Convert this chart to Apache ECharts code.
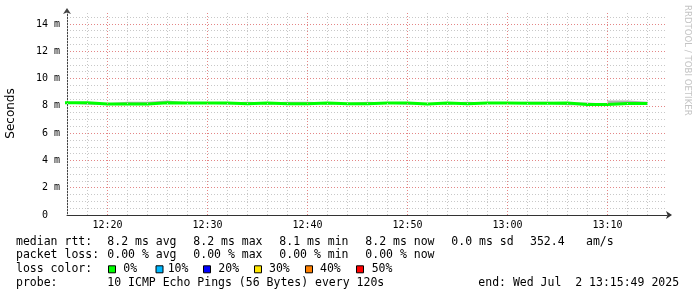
<!DOCTYPE html>
<html><head><meta charset="utf-8">
<script src="https://cdn.jsdelivr.net/npm/echarts@6/dist/echarts.min.js"></script>
<style>html,body{margin:0;padding:0;background:#fff}#c{width:697px;height:297px}</style>
</head><body><div id="c"></div>
<script>
// ---- data ----
const firstBucketStart = [2025, 6, 2, 12, 14, 0];   // local time of first 120 s bucket
const bucketSeconds = 120;
const medianMs = [8.22, 8.22, 8.13, 8.13, 8.13, 8.22, 8.20, 8.20, 8.20, 8.15,
                  8.20, 8.15, 8.15, 8.20, 8.15, 8.15, 8.20, 8.20, 8.13, 8.20,
                  8.15, 8.20, 8.20, 8.18, 8.18, 8.20, 8.10, 8.10, 8.17, 8.17];
const smokeHighMs = [8.27, 8.27, 8.18, 8.30, 8.30, 8.38, 8.25, 8.25, 8.25, 8.30,
                     8.25, 8.30, 8.30, 8.25, 8.20, 8.30, 8.25, 8.25, 8.18, 8.25,
                     8.30, 8.25, 8.25, 8.30, 8.30, 8.25, 8.25, 8.15, 8.38, 8.30];
const smokeLowMs = [8.17, 8.17, 8.08, 8.08, 8.08, 8.17, 8.15, 8.15, 8.15, 8.10,
                    8.15, 8.10, 8.10, 8.15, 8.10, 8.10, 8.15, 8.15, 8.08, 8.15,
                    8.10, 8.15, 8.15, 8.13, 8.13, 8.15, 8.05, 8.05, 8.12, 8.12];
const viewStart = [2025, 6, 2, 12, 15, 57];
const viewEnd = [2025, 6, 2, 13, 15, 57];
const minorGridMinutes = 2;     // vertical minor grid every 2 min
const majorGridMinutes = 10;    // labelled grid every 10 min
const yTickLabels = ['0  ', '2 m', '4 m', '6 m', '8 m', '10 m', '12 m', '14 m'];
const yMax = 14.8;
const statRtt = ['median rtt:', '8.2 ms avg', '8.2 ms max', '8.1 ms min', '8.2 ms now', '0.0 ms sd', '352.4', 'am/s'];
const statLoss = ['packet loss:', '0.00 % avg', '0.00 % max', '0.00 % min', '0.00 % now'];
const lossLabels = ['0%', '10%', '20%', '30%', '40%', '50%'];
const lossColors = ['#00ff00', '#00b8ff', '#0000ff', '#ffe600', '#ff8000', '#ff0000'];
const probeText = ['probe:', '10 ICMP Echo Pings (56 Bytes) every 120s', 'end: Wed Jul  2 13:15:49 2025'];

// ---- build ----
const t0 = new Date(...firstBucketStart).getTime();
const step = bucketSeconds * 1000;
function stepData(arr) {
  const d = arr.map((v, i) => [t0 + i * step, v]);
  d.push([t0 + arr.length * step, arr[arr.length - 1]]);
  return d;
}
const band = smokeHighMs.map((h, i) => +(h - smokeLowMs[i]).toFixed(3));
const xMin = new Date(...viewStart).getTime();
const xMax = new Date(...viewEnd).getTime();

// vertical grid times: every 2 min (minor) and every 10 min (major)
const minorTimes = [], majorTimes = [];
{
  const mStep = minorGridMinutes * 60000;
  for (let t = Math.ceil(xMin / mStep) * mStep; t < xMax; t += mStep) {
    if (new Date(t).getMinutes() % majorGridMinutes === 0) majorTimes.push({ xAxis: t });
    else minorTimes.push({ xAxis: t });
  }
}

const PINK = '#e48686', GRAY = '#c8c8c8';
const MONO = '"DejaVu Sans Mono"';
const FS = 11.5;
const rowY = [241.7, 255.5, 269.3, 283.2];
const rttX = [16, 107.3, 193.3, 279.3, 365.3, 451.3, 530, 586];
const lossX = [16, 107.3, 193.3, 279.3, 365.3];
const boxX = [108, 155.5, 203, 254, 305, 356];
const lblX = [123.3, 167.7, 218.3, 269, 320, 371.7];
const probeX = [16, 107.3, 478.3];

function txt(text, x, y, extra) {
  return Object.assign({
    type: 'text', x: x, y: y, silent: true,
    style: { text: text, font: FS + 'px ' + MONO, fill: '#000',
      align: 'left', verticalAlign: 'middle', textAlign: 'left', textVerticalAlign: 'middle' }
  }, extra || {});
}
const graphics = [];
statRtt.forEach((s, i) => graphics.push(txt(s, rttX[i], rowY[0])));
statLoss.forEach((s, i) => graphics.push(txt(s, lossX[i], rowY[1])));
graphics.push(txt('loss color:', 16, rowY[2]));
lossLabels.forEach((s, i) => {
  graphics.push({ type: 'rect', silent: true,
    shape: { x: boxX[i] + 0.5, y: rowY[2] - 3.5, width: 7, height: 7 },
    style: { fill: lossColors[i], stroke: '#000', lineWidth: 1 } });
  graphics.push(txt(s, lblX[i], rowY[2]));
});
probeText.forEach((s, i) => graphics.push(txt(s, probeX[i], rowY[3])));
graphics.push({ type: 'text', x: 11, y: 113.5, rotation: Math.PI / 2, silent: true,
  style: { text: 'Seconds', font: '12px "DejaVu Sans"', fill: '#000',
    align: 'center', verticalAlign: 'middle', textAlign: 'center', textVerticalAlign: 'middle' } });
graphics.push({ type: 'text', x: 687, y: 5, rotation: -Math.PI / 2, silent: true,
  style: { text: 'RRDTOOL / TOBI OETIKER', font: '8.6px "DejaVu Sans"', fill: '#c4c4c4',
    align: 'left', verticalAlign: 'middle', textAlign: 'left', textVerticalAlign: 'middle' } });

function gridMarks(color, data) {
  return { silent: true, animation: false, symbol: ['none', 'none'], label: { show: false },
    lineStyle: { color: color, type: [1, 2], width: 1 }, emphasis: { disabled: true }, data: data };
}

const chart = echarts.init(document.getElementById('c'), null, { renderer: 'canvas' });
chart.setOption({
  animation: false,
  backgroundColor: '#fff',
  grid: { left: 67, right: 30, top: 13, bottom: 82, containLabel: false },
  xAxis: [
    { type: 'time', min: xMin, max: xMax, position: 'bottom', splitNumber: 5, z: 1,
      axisLine: { show: true, onZero: false, lineStyle: { color: '#333', width: 1 }, symbol: ['none', 'arrow'], symbolSize: [6, 6], symbolOffset: [0, 5] },
      axisTick: { show: false },
      axisLabel: { formatter: '{HH}:{mm}', color: '#000', fontFamily: 'DejaVu Sans Mono', fontSize: 10, margin: 5,
        showMinLabel: false, showMaxLabel: false },
      splitLine: { show: false } }
  ],
  yAxis: [
    { type: 'value', min: 0, max: yMax, interval: 0.5, position: 'left', z: 0,
      axisLine: { show: false }, axisTick: { show: false }, axisLabel: { show: false },
      splitLine: { show: true, showMinLine: false, showMaxLine: false, lineStyle: { color: GRAY, type: [1, 2], width: 1 } } },
    { type: 'value', min: 0, max: yMax, interval: 2, position: 'left', offset: 0, z: 1,
      axisLine: { show: true, onZero: false, lineStyle: { color: '#444', width: 1 }, symbol: ['none', 'arrow'], symbolSize: [6, 6], symbolOffset: [0, 5] },
      axisTick: { show: false },
      axisLabel: { color: '#000', fontFamily: 'DejaVu Sans Mono', fontSize: 10, margin: 7, showMaxLabel: false,
        formatter: v => (Math.abs(v / 2 - Math.round(v / 2)) < 1e-9 ? (yTickLabels[Math.round(v / 2)] || '') : '') },
      splitLine: { show: true, showMinLine: false, showMaxLine: false, lineStyle: { color: PINK, type: [1, 2], width: 1 } } }
  ],
  series: [
    { type: 'line', xAxisIndex: 0, yAxisIndex: 1, stack: 'smoke', step: 'end', symbol: 'none', silent: true, z: 2,
      data: stepData(smokeLowMs), lineStyle: { width: 0, opacity: 0 },
      markLine: gridMarks(GRAY, minorTimes) },
    { type: 'line', xAxisIndex: 0, yAxisIndex: 1, stack: 'smoke', step: 'end', symbol: 'none', silent: true, z: 2,
      data: stepData(band), lineStyle: { width: 0, opacity: 0 },
      areaStyle: { color: '#b4b4b4', opacity: 1 },
      markLine: gridMarks(PINK, majorTimes) },
    { type: 'line', xAxisIndex: 0, yAxisIndex: 1, step: 'end', symbol: 'none', silent: true, z: 3,
      data: stepData(medianMs), lineStyle: { color: '#00ff00', width: 3 } }
  ],
  graphic: graphics
});
</script></body></html>
